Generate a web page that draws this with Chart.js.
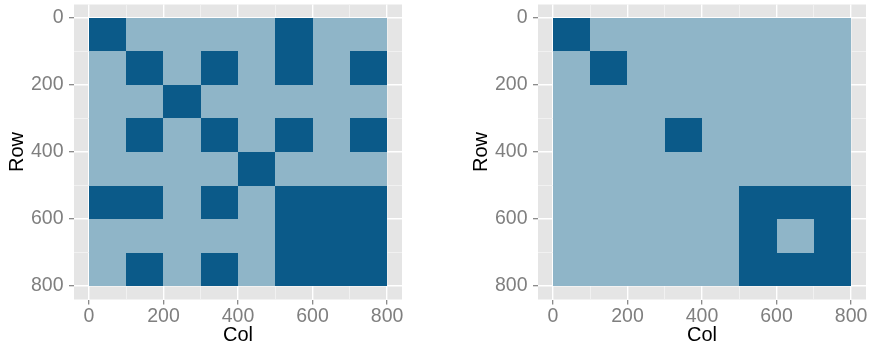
<!DOCTYPE html>
<html>
<head>
<meta charset="utf-8">
<script src="https://cdn.jsdelivr.net/npm/chart.js@4/dist/chart.umd.min.js"></script>
<style>
html,body{margin:0;padding:0;background:#ffffff;}
#wrap{position:relative;width:870px;height:345px;overflow:hidden;}
.box{position:absolute;top:0;height:345px;}
#b1{left:0;width:435px;}
#b2{left:464px;width:406px;}
</style>
</head>
<body>
<div id="wrap">
  <div class="box" id="b1"><canvas id="c1"></canvas></div>
  <div class="box" id="b2"><canvas id="c2"></canvas></div>
</div>
<script>
// ---- data ----
const colCenters = [50, 150, 250, 350, 450, 550, 650, 750];
const rowCenters = [50, 150, 250, 350, 450, 550, 650, 750];
const tickLabels = [0, 200, 400, 600, 800];
const gridValues = [0, 100, 200, 300, 400, 500, 600, 700, 800];
const axisTitleX = 'Col';
const axisTitleY = 'Row';
// 1 = dark, 0 = light ; rows top->bottom, cols left->right
const leftMatrix = [
  [1,0,0,0,0,1,0,0],
  [0,1,0,1,0,1,0,1],
  [0,0,1,0,0,0,0,0],
  [0,1,0,1,0,1,0,1],
  [0,0,0,0,1,0,0,0],
  [1,1,0,1,0,1,1,1],
  [0,0,0,0,0,1,1,1],
  [0,1,0,1,0,1,1,1]
];
const rightMatrix = [
  [1,0,0,0,0,0,0,0],
  [0,1,0,0,0,0,0,0],
  [0,0,0,0,0,0,0,0],
  [0,0,0,1,0,0,0,0],
  [0,0,0,0,0,0,0,0],
  [0,0,0,0,0,1,1,1],
  [0,0,0,0,0,1,0,1],
  [0,0,0,0,0,1,1,1]
];

// ---- styles ----
const DARK = '#0B5A89';
const LIGHT = '#8FB5C8';
const PANEL_BG = '#E5E5E5';
const TILE = 100;
const FONT = "'Liberation Sans', Arial, Helvetica, sans-serif";

function toPoints(matrix) {
  const pts = [];
  matrix.forEach((row, r) => row.forEach((v, c) => {
    pts.push({x: colCenters[c], y: rowCenters[r], v: v});
  }));
  return pts;
}

const panelBg = {
  id: 'panelBg',
  beforeDraw(chart) {
    const {ctx, chartArea: a} = chart;
    ctx.save();
    ctx.fillStyle = PANEL_BG;
    ctx.fillRect(a.left, a.top, a.right - a.left, a.bottom - a.top);
    ctx.restore();
  }
};

const tiles = {
  id: 'tiles',
  beforeDatasetsDraw(chart) {
    const {ctx, scales: {x, y}} = chart;
    ctx.save();
    chart.data.datasets[0].data.forEach(p => {
      const x0 = Math.round(x.getPixelForValue(p.x - TILE / 2));
      const x1 = Math.round(x.getPixelForValue(p.x + TILE / 2));
      const y0 = Math.round(y.getPixelForValue(p.y - TILE / 2));
      const y1 = Math.round(y.getPixelForValue(p.y + TILE / 2));
      ctx.fillStyle = p.v ? DARK : LIGHT;
      ctx.fillRect(Math.min(x0, x1), Math.min(y0, y1), Math.abs(x1 - x0), Math.abs(y1 - y0));
    });
    ctx.restore();
  }
};

function axis(pos, titleText) {
  const isX = pos === 'bottom';
  return {
    type: 'linear',
    position: pos,
    reverse: !isX,
    min: -40,
    max: 840,
    afterBuildTicks(s) { s.ticks = gridValues.map(v => ({value: v})); },
    afterFit(s) {
      s.paddingTop = 0; s.paddingBottom = 0; s.paddingLeft = 0; s.paddingRight = 0;
      if (isX) s.height = 45.5; else s.width = 74;
    },
    border: {display: false},
    grid: {
      drawTicks: true,
      tickLength: 5,
      color: c => tickLabels.includes(c.tick.value) ? '#FFFFFF' : '#F2F2F2',
      lineWidth: c => tickLabels.includes(c.tick.value) ? 1.4 : 0.9,
      tickColor: c => tickLabels.includes(c.tick.value) ? '#7F7F7F' : 'rgba(0,0,0,0)',
      tickWidth: 1.2
    },
    ticks: {
      autoSkip: false,
      maxRotation: 0,
      minRotation: 0,
      padding: isX ? 2.5 : 5.5,
      color: '#7F7F7F',
      font: {family: FONT, size: 19.5, lineHeight: 1},
      callback: v => tickLabels.includes(v) ? String(v) : ''
    },
    title: {
      display: true,
      text: titleText,
      color: '#000000',
      font: {family: FONT, size: 20, lineHeight: 1},
      padding: isX ? {top: 0, bottom: 0} : {top: 7.5, bottom: 0}
    }
  };
}

function makeChart(id, matrix, rightPad) {
  return new Chart(document.getElementById(id), {
    type: 'scatter',
    data: {datasets: [{data: toPoints(matrix), pointRadius: 0, pointHoverRadius: 0}]},
    options: {
      responsive: true,
      maintainAspectRatio: false,
      animation: false,
      layout: {padding: {left: 0, top: 4.5, bottom: 0, right: rightPad}},
      plugins: {legend: {display: false}, tooltip: {enabled: false}},
      events: [],
      scales: {x: axis('bottom', axisTitleX), y: axis('left', axisTitleY)}
    },
    plugins: [panelBg, tiles]
  });
}

makeChart('c1', leftMatrix, 33);
makeChart('c2', rightMatrix, 4);
</script>
</body>
</html>
